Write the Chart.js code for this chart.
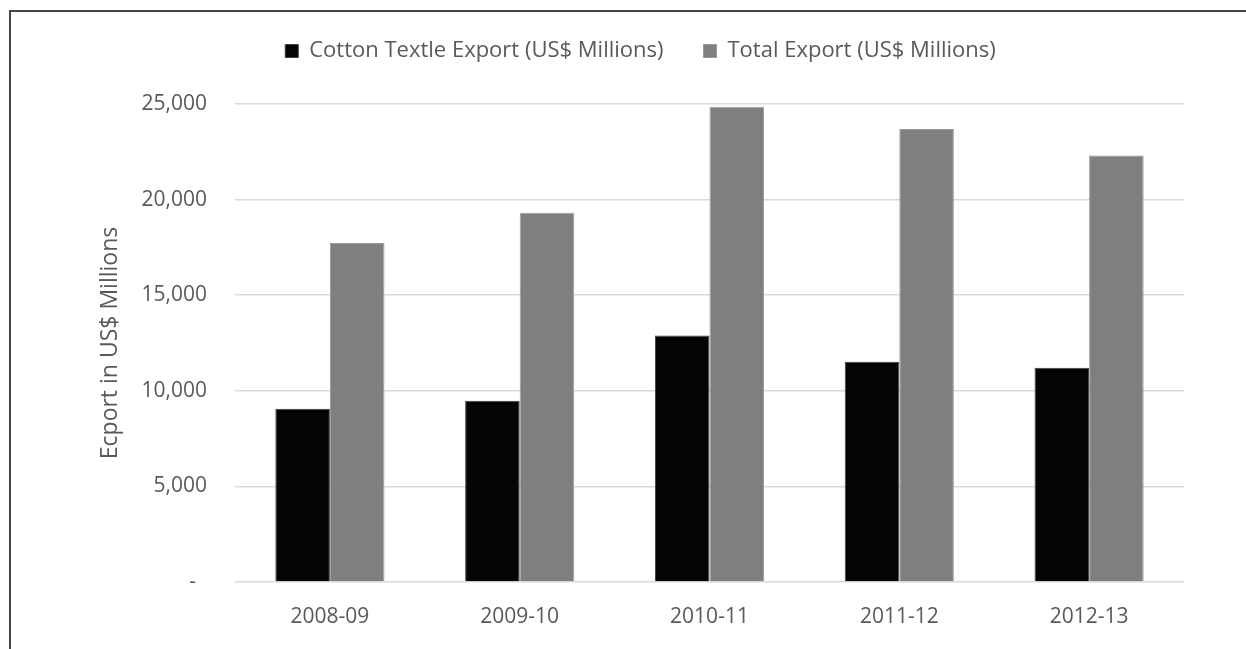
<!DOCTYPE html>
<html>
<head>
<meta charset="utf-8">
<script src="https://cdn.jsdelivr.net/npm/chart.js@4.4.0/dist/chart.umd.min.js"></script>
<style>
  html, body { margin: 0; padding: 0; background: #fff; }
  #wrap { position: relative; width: 1246px; height: 649px; }
  #frame {
    position: absolute; left: 9px; top: 10px; right: 0; bottom: 0;
    border-top: 2px solid #444; border-left: 2px solid #444;
    pointer-events: none;
  }
</style>
</head>
<body>
<div id="wrap">
  <canvas id="grafica" width="1246" height="649"></canvas>
  <div id="frame"></div>
</div>
<script>
// años fiscales y exportaciones (US$ millones)
const years = ['2008-09', '2009-10', '2010-11', '2011-12', '2012-13'];
const cottonExport = [9060, 9480, 12890, 11515, 11200];
const totalExport = [17730, 19315, 24855, 23690, 22310];
const yTicks = [0, 5000, 10000, 15000, 20000, 25000];

const textColor = '#595959';
const fontFam = '"Open Sans", "Liberation Sans", sans-serif';

// espacio extra debajo de la leyenda
const legendGap = {
  id: 'legendGap',
  beforeInit(chart) {
    const fitOrig = chart.legend.fit;
    chart.legend.fit = function () {
      fitOrig.bind(chart.legend)();
      this.height += 32;
    };
  }
};

let ctx = document.getElementById('grafica');
new Chart(ctx, {
  type: 'bar',
  data: {
    labels: years,
    datasets: [
      {
        label: 'Cotton Textle Export (US$ Millions)',
        data: cottonExport,
        backgroundColor: '#040404',
        borderColor: '#3c3c3c',
        borderWidth: 1
      },
      {
        label: 'Total Export (US$ Millions)',
        data: totalExport,
        backgroundColor: '#7f7f7f',
        borderColor: '#9a9a9a',
        borderWidth: 1
      }
    ]
  },
  plugins: [legendGap],
  options: {
    responsive: false,
    animation: false,
    layout: { padding: { left: 97, right: 62, top: 0, bottom: 17 } },
    datasets: { bar: { categoryPercentage: 0.575, barPercentage: 1 } },
    plugins: {
      legend: {
        position: 'top',
        labels: {
          boxWidth: 13,
          boxHeight: 13,
          padding: 40,
          color: textColor,
          font: { family: fontFam, size: 22 }
        }
      },
      tooltip: { enabled: false }
    },
    scales: {
      x: {
        grid: { display: false },
        border: { display: false },
        ticks: { color: textColor, padding: 14, font: { family: fontFam, size: 21 } },
        afterFit: (scale) => { scale.height = 50; }
      },
      y: {
        min: 0,
        max: 25000,
        afterBuildTicks: (scale) => { scale.ticks = yTicks.map(v => ({ value: v })); },
        grid: { color: '#d9d9d9', lineWidth: 1.5, drawTicks: false },
        border: { display: false },
        ticks: {
          color: textColor,
          padding: 28,
          font: { family: fontFam, size: 21 },
          callback: (v) => v === 0 ? '-  ' : v.toLocaleString('en-US')
        },
        title: {
          display: true,
          text: 'Ecport in US$ Millions',
          color: textColor,
          font: { family: fontFam, size: 23 },
          padding: 0
        },
        afterFit: (scale) => { scale.width = 138; }
      }
    }
  }
});
</script>
</body>
</html>
